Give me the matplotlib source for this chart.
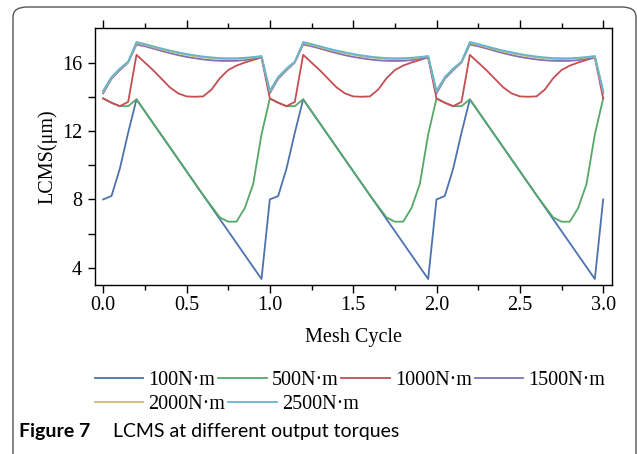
import numpy as np
import matplotlib
matplotlib.use("Agg")
import matplotlib.pyplot as plt
from matplotlib.patches import FancyBboxPatch
from matplotlib.lines import Line2D

# ---- data (one mesh cycle, step 0.05, repeated for 3 cycles) ----
cycle_x_step = 0.05
n_cycles = 3
labels = ["100N·m", "500N·m", "1000N·m", "1500N·m", "2000N·m", "2500N·m"]
colors = ["#4C72B0", "#55A868", "#C44E52", "#8172B2", "#CCB974", "#64B5CD"]

t100 = [8.0, 8.2, 9.8, 11.9, 13.85, 13.15, 12.45, 11.75, 11.05, 10.35,
        9.65, 8.95, 8.25, 7.55, 6.85, 6.15, 5.45, 4.75, 4.05, 3.35]
t500 = [13.9, 13.65, 13.45, 13.45, 13.85, 13.15, 12.45, 11.75, 11.05, 10.35,
        9.65, 8.95, 8.25, 7.6, 6.95, 6.7, 6.7, 7.5, 8.9, 11.8]
t1000 = [13.9, 13.65, 13.45, 13.7, 16.45, 16.0, 15.55, 15.05, 14.55, 14.2,
         14.02, 14.0, 14.02, 14.42, 15.08, 15.56, 15.82, 16.0, 16.15, 16.3]
t1500 = [14.2, 15.05, 15.55, 16.0, 17.05, 16.95, 16.82, 16.68, 16.55, 16.43,
         16.33, 16.25, 16.18, 16.13, 16.1, 16.09, 16.1, 16.14, 16.22, 16.32]
t2000 = [14.3, 15.12, 15.62, 16.03, 17.15, 17.03, 16.9, 16.77, 16.65, 16.54,
         16.45, 16.36, 16.3, 16.25, 16.21, 16.2, 16.21, 16.24, 16.29, 16.36]
t2500 = [14.35, 15.15, 15.65, 16.05, 17.2, 17.08, 16.95, 16.82, 16.7, 16.6,
         16.5, 16.42, 16.35, 16.3, 16.26, 16.25, 16.25, 16.28, 16.32, 16.38]
series = [t100, t500, t1000, t1500, t2000, t2500]

xticks = [0.0, 0.5, 1.0, 1.5, 2.0, 2.5, 3.0]
yticks = [4, 8, 12, 16]

# ---- figure ----
W, H, DPI = 637, 454, 100
fig = plt.figure(figsize=(W / DPI, H / DPI), dpi=DPI)
plt.rcParams['font.family'] = ['Liberation Serif', 'DejaVu Serif']
FS = 14.5

# rounded border
border = FancyBboxPatch((13 / W, 1 - 470 / H), (636 - 13) / W, (470 - 7) / H,
                        boxstyle="round,pad=0,rounding_size=0.022",
                        transform=fig.transFigure, fill=False,
                        edgecolor="#555555", linewidth=1.0, clip_on=False)
fig.patches.append(border)

ax = fig.add_axes([94.5 / W, 1 - 285 / H, (612 - 94.5) / W, (285 - 28.3) / H])

npts = len(t100) * n_cycles + 1
x = np.arange(npts) * cycle_x_step
for vals, c, lab in zip(series, colors, labels):
    y = list(vals) * n_cycles + [vals[0]]
    ax.plot(x, y, color=c, lw=1.3, label=lab)

ax.set_xlim(-0.052, 3.053)
ax.set_ylim(3, 18)
ax.set_xticks(xticks)
ax.set_xticklabels([f"{v:.1f}" for v in xticks])
ax.set_xticks(np.arange(0.25, 3.0, 0.5), minor=True)
ax.set_yticks(yticks)
ax.set_yticks([6, 10, 14], minor=True)
ax.tick_params(axis='x', which='major', direction='out', length=6, width=1,
               top=True, bottom=True, labelsize=FS, pad=2)
ax.tick_params(axis='x', which='minor', direction='out', length=3.5, width=1,
               top=True, bottom=True)
ax.tick_params(axis='y', which='both', direction='out', length=5, width=1,
               left=True, right=False, labelsize=FS, pad=4)
for s in ax.spines.values():
    s.set_linewidth(1.0)
    s.set_color("black")

ax.set_xlabel("Mesh Cycle", fontsize=FS, labelpad=9)
ax.set_ylabel("LCMS(μm)", fontsize=FS, labelpad=3)

# legend rows (flow layout)
handles = [Line2D([], [], color=c, lw=1.3) for c in colors]
common = dict(frameon=False, fontsize=FS, handlelength=2.4, handletextpad=0.25,
              columnspacing=0.15, borderpad=0, borderaxespad=0, loc='center left')
leg1 = fig.legend(handles[:4], labels[:4], ncol=4,
                  bbox_to_anchor=(95 / W, 1 - 380 / H), **common)
leg2 = fig.legend(handles[4:], labels[4:], ncol=2,
                  bbox_to_anchor=(95 / W, 1 - 404 / H), **common)

# caption
cap_font = ['Lato', 'DejaVu Sans']
fig.text(19 / W, 1 - 432 / H, "Figure 7", fontsize=14, fontweight='bold',
         family=cap_font, va='center', ha='left')
fig.text(113 / W, 1 - 432 / H, "LCMS at different output torques", fontsize=14,
         family=cap_font, va='center', ha='left')

fig.savefig("out.png", dpi=DPI)
